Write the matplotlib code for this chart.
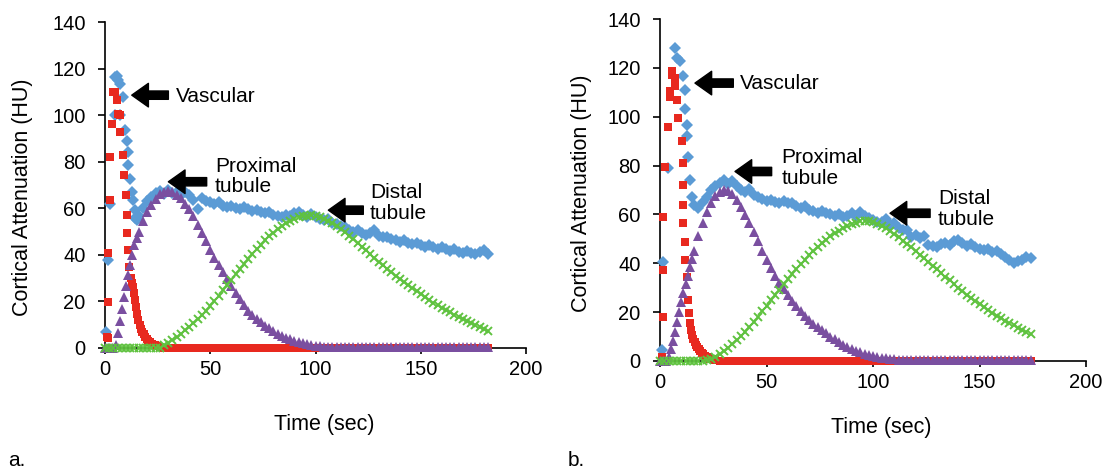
import numpy as np
import matplotlib
matplotlib.use("Agg")
from matplotlib import pyplot as plt

plt.rcParams['font.family'] = ['Liberation Sans', 'DejaVu Sans']

BLUE = '#5b9bd5'
RED = '#e8291f'
PURPLE = '#7a4fa0'
GREEN = '#5fc23f'

# ---------------- panel a ----------------
grid_a = np.arange(0, 184, 2)          # 0 .. 182 s
grid_a16 = np.arange(16, 184, 2)       # 16 .. 182 s
grid_a28 = np.arange(28, 184, 2)       # 28 .. 182 s
fine_16 = np.arange(0, 16, 1)          # 0 .. 15 s, 1 s steps

blue_a_t0 = [0.4, 1.6, 2.4, 4.8, 4.8, 5.6, 6.3, 7.1, 7.1, 8.7, 9.5, 10.3, 11.1, 11.1,
             11.9, 12.7, 13.5, 14.3, 14.3, 15.1]
blue_a_v0 = [7, 37.8, 62, 100, 116.4, 117, 115, 113.6, 100, 107.8, 93.6, 89, 84.2, 78.5,
             72.8, 67, 63.5, 59.2, 56, 55]
blue_a_v = [56.5, 60, 63, 65, 66.5, 67.5, 66, 67.8, 66.5, 67.2, 65.5, 66.8, 65.8, 63.5,
            59.5, 64.5, 63, 62.5, 61.8, 62.5, 61, 60.5, 61.2, 60.3, 59.8, 60.5, 59.5, 58.8,
            59.4, 58.5, 57.8, 58.2, 57.3, 56.8, 56.3, 57.2, 56.5, 57.8, 58.3, 57, 56.2, 57.5,
            56.2, 55.5, 54.8, 55.3, 53.8, 53.2, 52.5, 51.8, 50.8, 49.8, 50.5, 49.2, 48.5, 49.5,
            50.8, 48.2, 47.5, 47.8, 46.8, 46.2, 45.5, 46.3, 45.2, 44.6, 45.3, 44.2, 43.5, 44.2,
            43.3, 42.6, 43.4, 42.5, 41.8, 42.4, 41.3, 40.8, 41.7, 41, 40.3, 41.2, 42, 40.5]

red_a_t0 = [0.8, 1.6, 1.6, 1.6, 2.4, 2.4, 3.2, 3.9, 4.8, 5.6, 6.3, 7.1, 7.1, 8.7, 9.2, 9.8,
            10.6, 10.6, 11.1, 11.4, 12.2, 12.8, 13.4, 13.9, 14.3, 14.8, 15.3, 15.8, 16.4, 17,
            17.6, 18.3, 19, 19.8, 20.6, 21.4, 22.2, 23, 23.8, 24.6, 25.4, 26.2]
red_a_v0 = [4.9, 4.2, 19.9, 40.6, 63.5, 82.1, 96.4, 110, 110, 106.4, 100.7, 100, 92.8, 82.8,
            74.2, 65.7, 57.1, 49.2, 42.1, 34.9, 30, 28, 26.3, 23.5, 20.6, 17.5, 14.5, 12, 10,
            8.3, 7, 5.8, 4.8, 3.9, 3.1, 2.4, 1.9, 1.5, 1.3, 1, 0.7, 0.5]
red_a_v = [0, 0, 0, 0, 0, 0, 0, 0, 0, 0, 0, 0, 0, 0, 0, 0, 0, 0, 0, 0, 0, 0, 0, 0, 0, 0,
           0, 0, 0, 0, 0, 0, 0, 0, 0, 0, 0, 0, 0, 0, 0, 0, 0, 0, 0, 0, 0, 0, 0, 0, 0, 0,
           0, 0, 0, 0, 0, 0, 0, 0, 0, 0, 0, 0, 0, 0, 0, 0, 0, 0, 0, 0, 0, 0, 0, 0, 0, 0]

purple_a_v0 = [0, 0, 0, 0, 0, 1.5, 6.5, 11.5, 16.8, 21.7, 26.6, 31.3, 35.8, 40, 44.3, 47.2]
purple_a_v = [49.7, 54.6, 58.5, 61.5, 64, 66, 67.2,
              67.5, 67, 65.8, 64.3, 62, 59.5, 56.5, 53, 49.5, 45.8, 42, 38.7, 35.5, 32.5, 29.5,
              26.5, 23.5, 21, 18.5, 16, 14.2, 12.5, 11, 9.6, 8.4, 7.2, 6.2, 5.3, 4.5, 3.8, 3.2,
              2.6, 2.1, 1.7, 1.3, 1, 0.8, 0.6, 0.5, 0.5,
              0.4, 0.4, 0.4, 0.4, 0.4, 0.4, 0.4, 0.4, 0.4, 0.4, 0.3, 0.3, 0.3, 0.3, 0.3, 0.3,
              0.3, 0.3, 0.3, 0.3, 0.3, 0.3, 0.3, 0.3, 0.3, 0.3, 0.3, 0.3, 0.3, 0.3, 0.3, 0.3,
              0.3, 0.3, 0.3, 0.3, 0.3]

green_a = [0, 0, 0, 0, 0, 0, 0, 0, 0, 0, 0, 0, 0, 0,
           1.2, 2.3, 3.5, 4.8, 6.2, 7.6, 9.1, 10.7, 12.4, 14.2, 16.1, 18.1, 20.2, 22.4, 24.7,
           27, 29.3, 31.6, 33.9, 36.2, 38.4, 40.5, 42.5, 44.4, 46.2, 47.9, 49.5, 51, 52.3,
           53.5, 54.5, 55.4, 56.1, 56.6, 56.9, 57, 56.8, 56.3, 55.6, 54.7, 53.6, 52.4, 51.1,
           49.7, 48.2, 46.7, 45.1, 43.5, 41.9, 40.3, 38.7, 37.1, 35.6, 34.1, 32.6, 31.1, 29.7,
           28.3, 26.9, 25.6, 24.3, 23, 21.8, 20.6, 19.5, 18.4, 17.3, 16.3, 15.3, 14.3, 13.4,
           12.5, 11.6, 10.7, 9.9, 9.1, 8.3, 7.5]

# ---------------- panel b ----------------
grid_b = np.arange(0, 176, 2)          # 0 .. 174 s
grid_b16 = np.arange(16, 176, 2)
grid_b28 = np.arange(28, 176, 2)

blue_b_t0 = [0.8, 1.5, 3.9, 7.0, 7.8, 9.4, 10.9, 11.7, 11.7, 12.5, 12.5, 13.3, 14.1, 14.9]
blue_b_v0 = [4.5, 40.7, 79, 128, 124, 122.7, 116.5, 111, 103, 96.7, 92, 83.7, 74.2, 67]
blue_b_v = [64, 62.5, 65, 67, 70, 71.5, 73, 74, 72.5, 73.5, 71.5, 70, 69, 70.5, 68, 67,
            66.5, 65.5, 66, 65, 64.5, 65.5, 64.5, 64.5, 63.5, 62.8, 63.5, 62, 61.3, 60.5,
            61.5, 60.5, 60, 59.3, 60, 58.8, 59.3, 60.5, 59.2, 61.2, 59.5, 58.5, 57.8, 57,
            56.8, 58, 55.5, 56.3, 54.5, 53.8, 53.5, 50.8, 51.5, 50.5, 51.2, 47.5, 47, 46.8,
            48, 48.5, 47.5, 49, 49.5, 48.2, 47, 47.8, 46.5, 46, 45.5, 45.8, 44.8, 45, 43.8,
            42.5, 41.5, 40.2, 40.8, 41.5, 42.5, 42]

red_b_t0 = [0.8, 1.5, 1.5, 1.5, 2.3, 3.9, 4.7, 4.7, 5.5, 5.5, 7.0, 7.0, 7.8, 8.6, 10.2,
            10.9, 10.9, 10.9, 10.9, 11.7, 11.7, 12.5, 13.3, 13.7, 14.1, 14.6, 15.1, 15.6,
            16.2, 16.8, 17.4, 18.1, 18.8, 19.6, 20.4, 21.2, 22, 22.8, 23.6, 24.4, 25.2, 26]
red_b_v0 = [1.8, 18.2, 37.3, 59.1, 79.6, 96, 108.3, 110.4, 117.2, 118.6, 115.9, 112.4, 107,
            99.5, 89.9, 81, 72.1, 63.9, 56.4, 48.9, 41.4, 34.5, 25, 19.5, 15.5, 12.5, 10.5,
            9, 7.7, 6.6, 5.6, 4.8, 4, 3.3, 2.7, 2.2, 1.7, 1.3, 1, 0.7, 0.5, 0.3]
red_b_v = [0, 0, 0, 0, 0, 0, 0, 0, 0, 0, 0, 0, 0, 0, 0, 0, 0, 0, 0, 0, 0, 0, 0, 0, 0, 0,
           0, 0, 0, 0, 0, 0, 0, 0, 0, 0, 0, 0, 0, 0, 0, 0, 0, 0, 0, 0, 0, 0, 0, 0, 0, 0,
           0, 0, 0, 0, 0, 0, 0, 0, 0, 0, 0, 0, 0, 0, 0, 0, 0, 0, 0, 0, 0, 0]

purple_b_v0 = [0, 0, 0, 0, 1.5, 4.8, 8, 12, 16, 20, 24, 27.8, 31.5, 35, 38.5, 41.8]
purple_b_v = [45, 51, 56.5, 61, 64.8, 67.5, 69.2, 70, 69.8,
              68.5, 66, 63, 59.8, 56.5, 53, 49, 45, 41.5, 38, 35, 32, 29.5, 27, 24.5, 22.5,
              20.5, 18.5, 16.8, 15.2, 13.8, 12.5, 11.3, 10, 8.8, 7.7, 6.7, 5.8, 5, 4.2, 3.5,
              2.9, 2.4, 2, 1.6, 1.3, 1.1, 0.9, 0.8,
              0.6, 0.6, 0.6, 0.6, 0.6, 0.5, 0.5, 0.5, 0.5, 0.5, 0.5, 0.5, 0.5, 0.5, 0.5, 0.5,
              0.5, 0.5, 0.5, 0.5, 0.5, 0.5, 0.5, 0.5, 0.5, 0.5, 0.5, 0.5, 0.5, 0.5, 0.5, 0.5]

green_b = [0, 0, 0, 0, 0, 0, 0, 0, 0, 0, 0,
           0.5, 1, 1.8, 2.8, 4, 5.3, 6.8, 8.4, 10.2, 12, 14, 16, 18.2, 20.4, 22.6, 24.8, 27,
           29.2, 31.4, 33.5, 35.6, 37.6, 39.6, 41.5, 43.3, 45, 46.7, 48.2, 49.7, 51, 52.3,
           53.4, 54.4, 55.3, 56.1, 56.7, 57.2, 57.4, 57.3, 56.9, 56.2, 55.3, 54.3, 53.2, 52,
           50.7, 49.3, 47.9, 46.5, 45, 43.5, 42, 40.5, 39, 37.5, 36, 34.5, 33, 31.5, 30, 28.6,
           27.2, 25.8, 24.5, 23.2, 22, 20.8, 19.7, 18.6, 17.5, 16.5, 15.5, 14.6, 13.7, 12.8,
           12, 11.2]

labels = ['Vascular', 'Proximal\ntubule', 'Distal\ntubule']


def draw_panel(ax, blue, red, purple, green, notes):
    kw = dict(linestyle='none', clip_on=False, zorder=3)
    ax.plot(*blue, marker='D', color=BLUE, ms=5.8, mew=0, **kw)
    ax.plot(*red, marker='s', color=RED, ms=6.2, mew=0, **kw)
    ax.plot(*purple, marker='^', color=PURPLE, ms=7.5, mew=0, **kw)
    ax.plot(*green, marker='x', color=GREEN, ms=6, mew=1.4, **kw)

    ax.set_xlim(0, 200)
    ax.set_ylim(0, 140)
    ax.set_xticks([0, 50, 100, 150, 200])
    ax.set_yticks(range(0, 141, 20))
    for s in ['top', 'right']:
        ax.spines[s].set_visible(False)
    for s in ['left', 'bottom']:
        ax.spines[s].set_linewidth(1.2)
    ax.tick_params(axis='y', direction='out', length=5, width=1.2, labelsize=14.5, pad=9)
    ax.tick_params(axis='x', direction='out', length=4, width=1.2, labelsize=14.5, pad=5)
    ax.set_xlabel('Time (sec)', fontsize=15.5)
    ax.set_ylabel('Cortical Attenuation (HU)', fontsize=15.5)

    for text, (tip, tail, tx, ty) in zip(labels, notes):
        ax.annotate('', xy=tip, xytext=tail,
                    arrowprops=dict(arrowstyle='simple,head_length=0.6,head_width=0.85,tail_width=0.3',
                                    fc='black', ec='black', mutation_scale=20,
                                    shrinkA=0, shrinkB=0))
        ax.text(tx, ty, text, fontsize=15, ha='left', va='center', linespacing=1.1)


fig = plt.figure(figsize=(11.03, 4.69), dpi=100)
ax1 = fig.add_axes([0.0952, 0.258, 0.3817, 0.695])
ax2 = fig.add_axes([0.5984, 0.2303, 0.3862, 0.729])

notes_a = [((12.7, 108.6), (30.1, 108.6), 33.6, 108.0),
           ((30.1, 71.4), (48.3, 71.4), 52.3, 73.6),
           ((106.1, 59.2), (122.7, 59.2), 125.9, 62.2)]
notes_b = [((16.4, 113.8), (34.4, 113.8), 37.6, 113.8),
           ((35.2, 77.6), (52.4, 77.6), 57.1, 79.1),
           ((108.0, 60.5), (126.8, 60.5), 130.5, 62.3)]

draw_panel(ax1,
           (np.concatenate([blue_a_t0, grid_a16]), blue_a_v0 + blue_a_v),
           (np.concatenate([red_a_t0, grid_a28]), red_a_v0 + red_a_v),
           (np.concatenate([fine_16, grid_a16]), purple_a_v0 + purple_a_v),
           (grid_a, green_a), notes_a)
draw_panel(ax2,
           (np.concatenate([blue_b_t0, grid_b16]), blue_b_v0 + blue_b_v),
           (np.concatenate([red_b_t0, grid_b28]), red_b_v0 + red_b_v),
           (np.concatenate([fine_16, grid_b16]), purple_b_v0 + purple_b_v),
           (grid_b, green_b), notes_b)

ax1.xaxis.set_label_coords(0.52, -0.2025)
ax1.yaxis.set_label_coords(-0.171, 0.463)
ax2.xaxis.set_label_coords(0.52, -0.164)
ax2.yaxis.set_label_coords(-0.160, 0.49)

fig.text(8 / 1103, 1 - 460 / 469, 'a.', fontsize=15, va='center')
fig.text(568 / 1103, 1 - 460 / 469, 'b.', fontsize=15, va='center')

fig.savefig('out.png', dpi=100)
